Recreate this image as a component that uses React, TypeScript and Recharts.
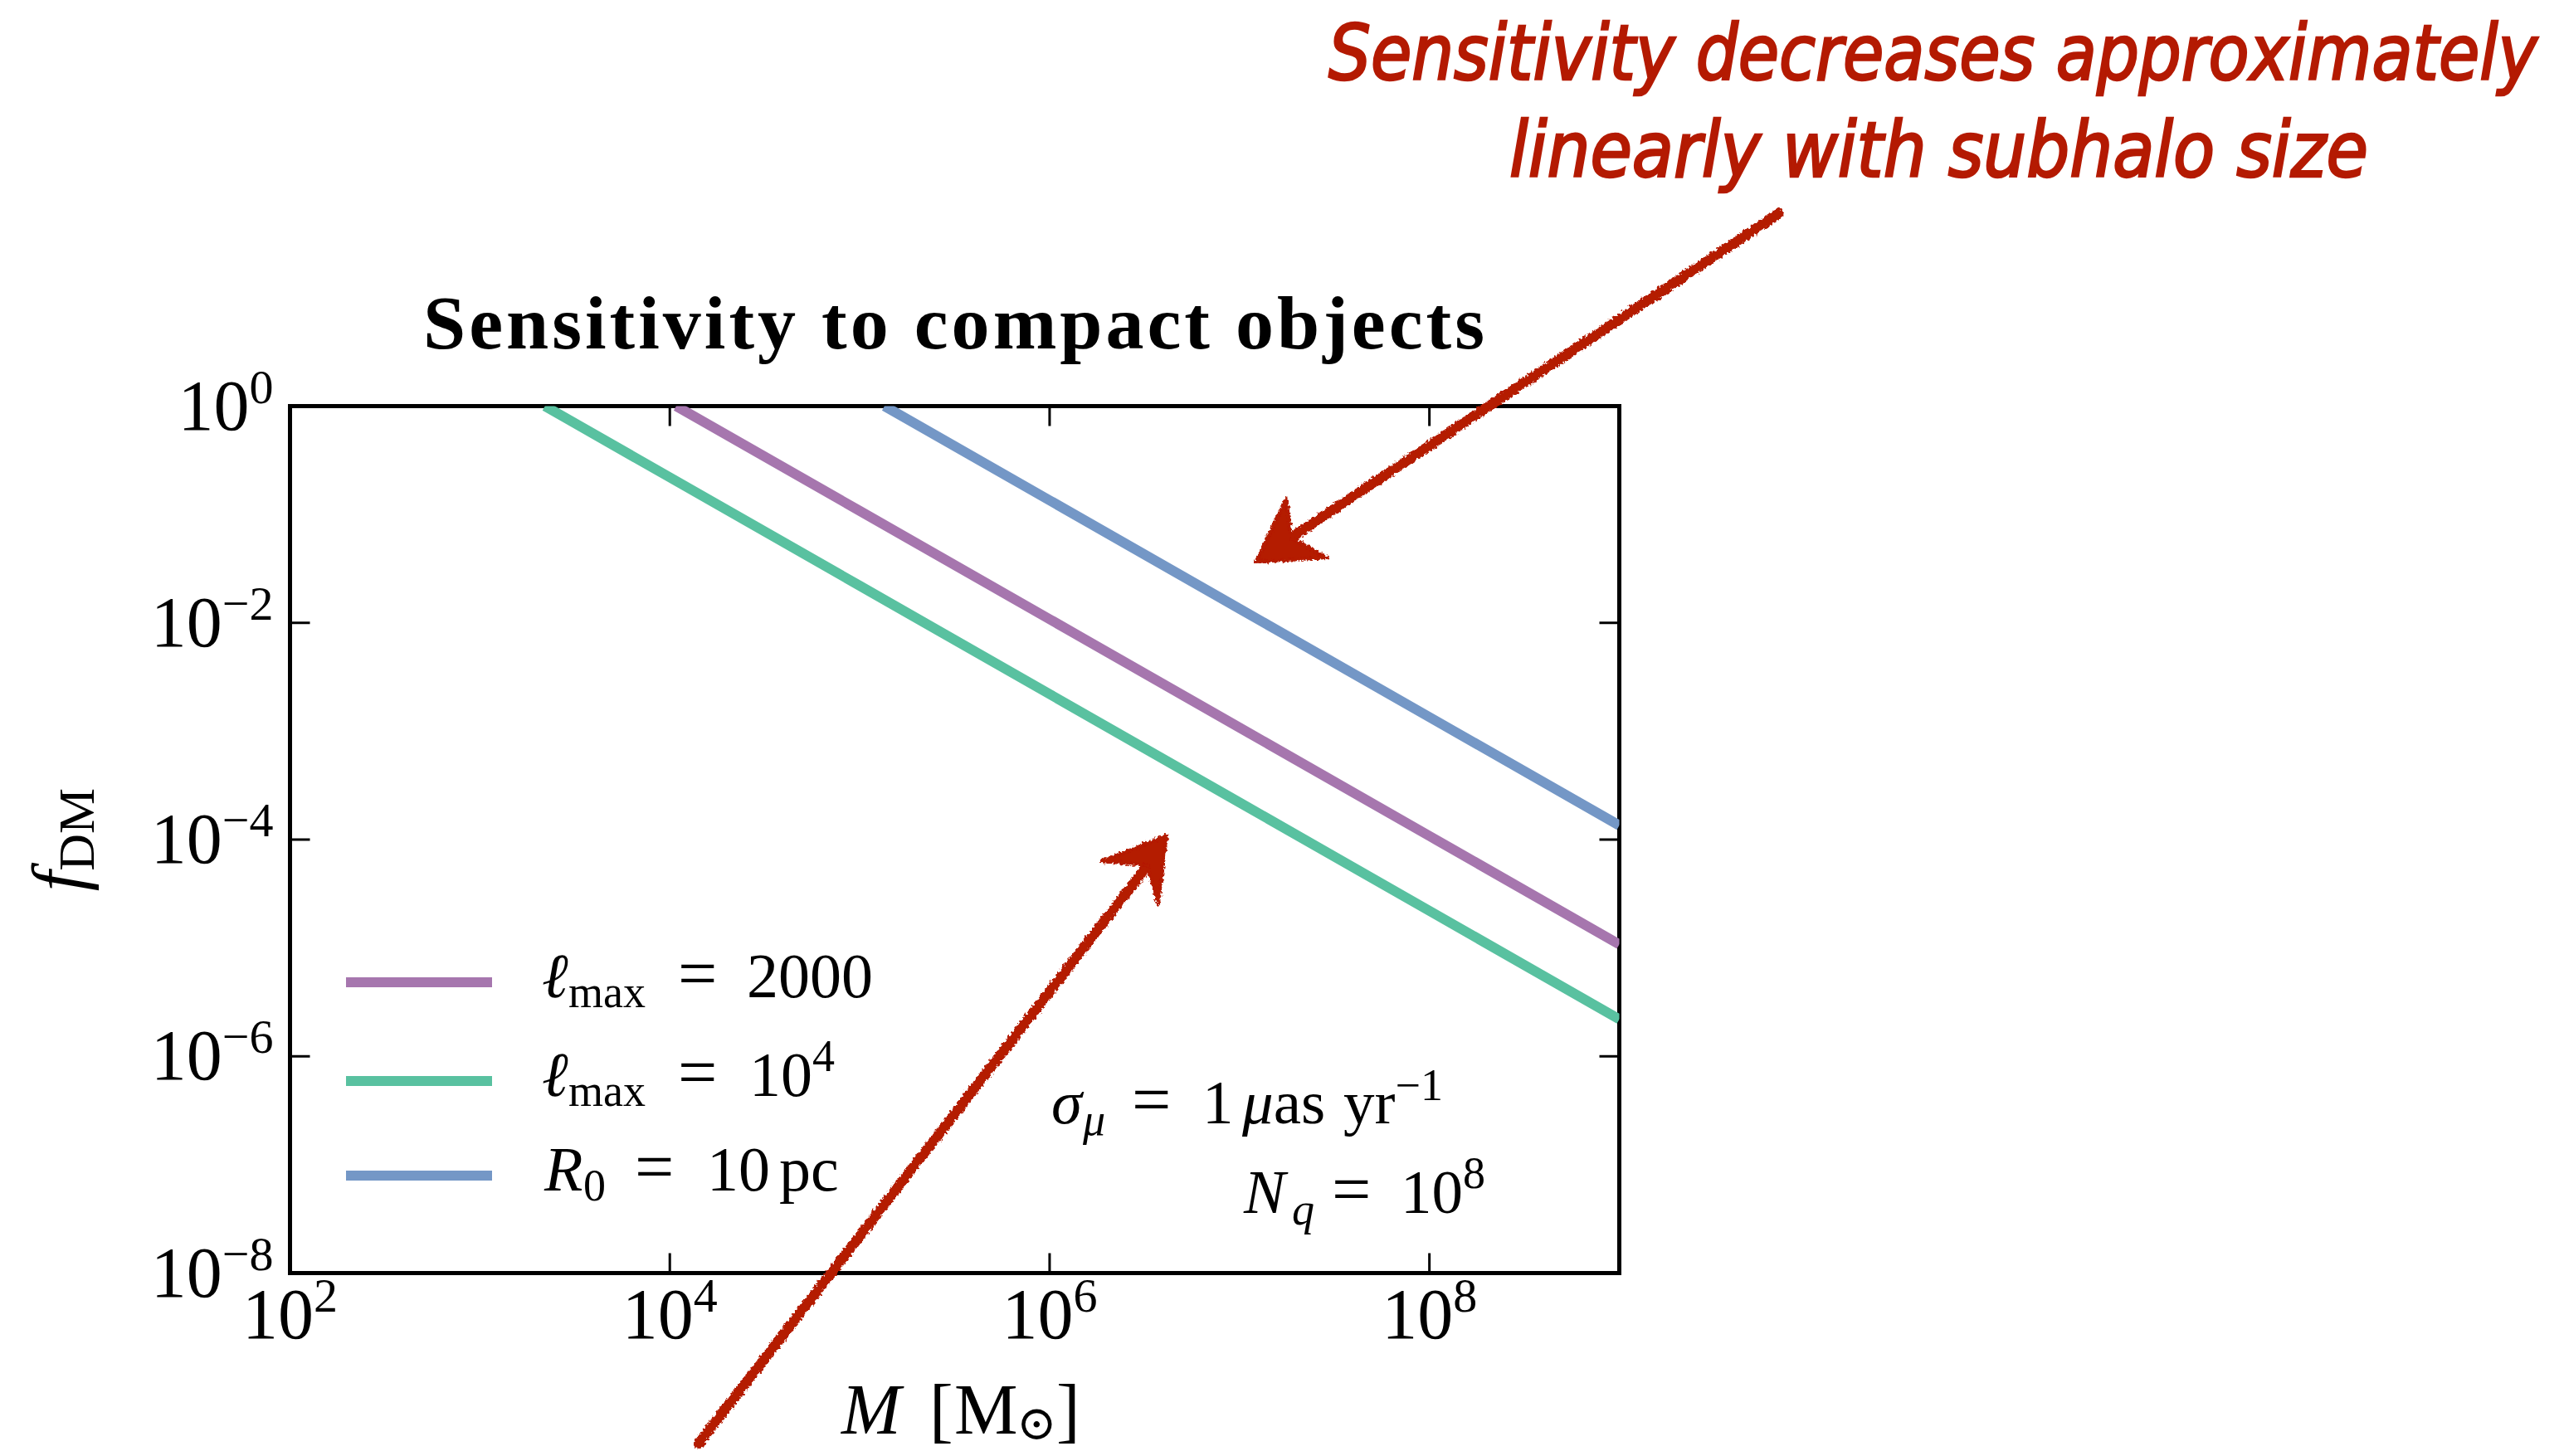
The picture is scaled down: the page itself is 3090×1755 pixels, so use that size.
import React from 'react';
import { LineChart, Line, XAxis, YAxis, ReferenceArea, Legend } from 'recharts';

// Reach in f_DM for each configuration, read per mass (solar masses)
const lmax2000Mass = [1.08e4, 1e5, 1e6, 1e7, 1e8, 1e9];
const lmax2000Frac = [1, 1.08e-1, 1.08e-2, 1.08e-3, 1.08e-4, 1.08e-5];

const lmax1e4Mass = [2.2e3, 1e4, 1e5, 1e6, 1e7, 1e8, 1e9];
const lmax1e4Frac = [1, 2.2e-1, 2.2e-2, 2.2e-3, 2.2e-4, 2.2e-5, 2.2e-6];

const r10pcMass = [1.35e5, 1e6, 1e7, 1e8, 1e9];
const r10pcFrac = [1, 1.35e-1, 1.35e-2, 1.35e-3, 1.35e-4];

const massTicks = [1e2, 1e4, 1e6, 1e8];
const fracTicks = [1e-8, 1e-6, 1e-4, 1e-2, 1];
const massDomain = [1e2, 1e9];
const fracDomain = [1e-8, 1];

const W = 3090;
const H = 1755;
const PLOT_LEFT = 349.5;
const PLOT_RIGHT = 1951.5;
const PLOT_TOP = 489.5;
const PLOT_BOTTOM = 1534.5;
const X_AXIS_H = 100;
const Y_AXIS_W = 200;
const TICK_LEN = 24;
const LINE_W = 12;

const SERIF = "'Liberation Serif', 'DejaVu Serif', serif";
const NARROW = "'Liberation Sans Narrow', 'DejaVu Sans Condensed', 'Liberation Sans', sans-serif";
const RED = '#B41A02';
// horizontal squeeze for the callout lettering
const CALLOUT_SQUEEZE = 0.88;

const toPoints = (mass: number[], frac: number[]) => mass.map((M, i) => ({ M, f: frac[i] }));

const series = [
  { key: 'lmax2000', color: '#A676AE', data: toPoints(lmax2000Mass, lmax2000Frac) },
  { key: 'lmax1e4', color: '#59C1A0', data: toPoints(lmax1e4Mass, lmax1e4Frac) },
  { key: 'r10pc', color: '#7497C6', data: toPoints(r10pcMass, r10pcFrac) },
];
const seriesOrder = series.map((s) => s.key);

const expText = (v: number) => {
  const e = Math.round(Math.log10(v));
  return e < 0 ? '\u2212' + Math.abs(e) : String(e);
};

const MassTick = (props: any) => {
  const { x, payload } = props;
  return (
    <g>
      <line x1={x} x2={x} y1={PLOT_BOTTOM} y2={PLOT_BOTTOM - TICK_LEN} stroke="#000" strokeWidth={3} />
      <line x1={x} x2={x} y1={PLOT_TOP} y2={PLOT_TOP + TICK_LEN} stroke="#000" strokeWidth={3} />
      <text x={x} y={PLOT_BOTTOM + 78} textAnchor="middle" fontFamily={SERIF} fontSize={86} fill="#000">
        10<tspan dy={-32} fontSize={58}>{expText(payload.value)}</tspan>
      </text>
    </g>
  );
};

const FracTick = (props: any) => {
  const { y, payload } = props;
  return (
    <g>
      <line x1={PLOT_LEFT} x2={PLOT_LEFT + TICK_LEN} y1={y} y2={y} stroke="#000" strokeWidth={3} />
      <line x1={PLOT_RIGHT} x2={PLOT_RIGHT - TICK_LEN} y1={y} y2={y} stroke="#000" strokeWidth={3} />
      <text x={PLOT_LEFT - 20} y={y + 28} textAnchor="end" fontFamily={SERIF} fontSize={86} fill="#000">
        10<tspan dy={-32} fontSize={58}>{expText(payload.value)}</tspan>
      </text>
    </g>
  );
};

// legend rows: math labels laid out piece by piece
const legendLabel = (key: string, x: number, y: number) => {
  const common = { fontFamily: SERIF, fontSize: 76, fill: '#000' };
  if (key === 'r10pc') {
    return (
      <text {...common} x={x} y={y}>
        <tspan x={x + 3} fontStyle="italic">R</tspan>
        <tspan x={x + 50} dy={12} fontSize={54}>0</tspan>
        <tspan x={x + 112} dy={-12} fontSize={84}>=</tspan>
        <tspan x={x + 199}>10</tspan>
        <tspan x={x + 286}>pc</tspan>
      </text>
    );
  }
  return (
    <text {...common} x={x} y={y}>
      <tspan x={x} fontStyle="italic">ℓ</tspan>
      <tspan x={x + 32} dy={12} fontSize={54}>max</tspan>
      <tspan x={x + 164} dy={-12} fontSize={84}>=</tspan>
      {key === 'lmax2000' ? (
        <tspan x={x + 247}>2000</tspan>
      ) : (
        <>
          <tspan x={x + 250}>10</tspan>
          <tspan dy={-30} fontSize={54}>4</tspan>
        </>
      )}
    </text>
  );
};

const LEGEND_LEFT = 400;
const LEGEND_TOP = 1120;
const LEGEND_ROWS = [64, 183, 297];

const LegendBox = (props: any) => {
  const payload = [...(props.payload || [])].sort(
    (a: any, b: any) => seriesOrder.indexOf(a.value) - seriesOrder.indexOf(b.value)
  );
  return (
    <svg width={720} height={360} style={{ display: 'block' }}>
      {payload.map((entry: any, i: number) => (
        <g key={entry.value}>
          <line x1={17} x2={193} y1={LEGEND_ROWS[i]} y2={LEGEND_ROWS[i]} stroke={entry.color} strokeWidth={LINE_W} />
          {legendLabel(entry.value, 253, LEGEND_ROWS[i] + 18)}
        </g>
      ))}
    </svg>
  );
};

const Annotations = () => (
  <svg width={W} height={H} style={{ position: 'absolute', left: 0, top: 0, pointerEvents: 'none' }}>
    <defs>
      <filter id="marker" x="-10%" y="-10%" width="120%" height="120%">
        <feTurbulence type="fractalNoise" baseFrequency="0.3" numOctaves={2} seed={4} result="noise" />
        <feDisplacementMap in="SourceGraphic" in2="noise" scale={7} xChannelSelector="R" yChannelSelector="G" />
      </filter>
    </defs>

    <text x={510} y={420} fontFamily={SERIF} fontWeight="bold" fontSize={92} textLength={1279} lengthAdjust="spacing" fill="#000">
      Sensitivity to compact objects
    </text>

    {/* axis titles */}
    <text transform="translate(100, 1012) rotate(-90)" textAnchor="middle" fontFamily={SERIF} fontSize={88} fill="#000">
      <tspan fontStyle="italic">f</tspan>
      <tspan dy={13} fontSize={62}>DM</tspan>
    </text>
    <text x={1014} y={1728} fontFamily={SERIF} fontSize={86} fill="#000">
      <tspan x={1014} fontStyle="italic">M</tspan>
      <tspan x={1120}>[</tspan>
      <tspan x={1150}>M</tspan>
      <tspan x={1225} dy={7} fontSize={58}>⊙</tspan>
      <tspan x={1273} dy={-7}>]</tspan>
    </text>

    {/* survey assumptions */}
    <text x={1267} y={1354} fontFamily={SERIF} fontSize={75} fill="#000">
      <tspan x={1267} fontStyle="italic">σ</tspan>
      <tspan x={1305} dy={14} fontSize={54} fontStyle="italic">μ</tspan>
      <tspan x={1364} dy={-14} fontSize={84}>=</tspan>
      <tspan x={1449}>1</tspan>
      <tspan x={1497} fontStyle="italic">μ</tspan>
      <tspan>as</tspan>
      <tspan x={1619}>yr</tspan>
      <tspan dy={-28} fontSize={54}>−1</tspan>
    </text>
    <text x={1499} y={1462} fontFamily={SERIF} fontSize={75} fill="#000">
      <tspan x={1499} fontStyle="italic">N</tspan>
      <tspan x={1557} dy={14} fontSize={54} fontStyle="italic">q</tspan>
      <tspan x={1605} dy={-14} fontSize={84}>=</tspan>
      <tspan x={1688}>10</tspan>
      <tspan dy={-30} fontSize={54}>8</tspan>
    </text>

    {/* callout */}
    <g fontFamily={NARROW} fontStyle="italic" fontSize={92} fill={RED} stroke={RED} strokeWidth={2.5}>
      <text
        transform={`translate(1601, 96) scale(${CALLOUT_SQUEEZE}, 1)`}
        x={0}
        y={0}
        textLength={1457 / CALLOUT_SQUEEZE}
        lengthAdjust="spacingAndGlyphs"
      >
        Sensitivity decreases approximately
      </text>
      <text
        transform={`translate(1819, 213) scale(${CALLOUT_SQUEEZE}, 1)`}
        x={0}
        y={0}
        textLength={1035 / CALLOUT_SQUEEZE}
        lengthAdjust="spacingAndGlyphs"
      >
        linearly with subhalo size
      </text>
    </g>

    <g filter="url(#marker)" fill={RED} stroke={RED}>
      <line x1={2144} y1={257} x2={1556} y2={648} strokeWidth={12} strokeLinecap="round" />
      <polygon points="1514,677 1550,601 1556,648 1599,672" strokeWidth={4} strokeLinejoin="round" />
      <line x1={842} y1={1740} x2={1383} y2={1043} strokeWidth={12} strokeLinecap="round" />
      <polygon points="1406,1007 1327,1038 1383,1043 1396,1090" strokeWidth={4} strokeLinejoin="round" />
    </g>
  </svg>
);

const App: React.FC = () => {
  return (
    <div style={{ position: 'absolute', left: 0, top: 0, width: W, height: H, background: '#fff' }}>
      <LineChart
        width={W}
        height={H}
        margin={{
          top: PLOT_TOP,
          right: W - PLOT_RIGHT,
          bottom: H - PLOT_BOTTOM - X_AXIS_H,
          left: PLOT_LEFT - Y_AXIS_W,
        }}
      >
        <XAxis
          dataKey="M"
          type="number"
          scale="log"
          domain={massDomain}
          ticks={massTicks}
          interval={0}
          allowDataOverflow
          axisLine={false}
          tickLine={false}
          tickSize={0}
          tickMargin={0}
          height={X_AXIS_H}
          tick={<MassTick />}
        />
        <YAxis
          dataKey="f"
          type="number"
          scale="log"
          domain={fracDomain}
          ticks={fracTicks}
          interval={0}
          allowDataOverflow
          axisLine={false}
          tickLine={false}
          tickSize={0}
          tickMargin={0}
          width={Y_AXIS_W}
          tick={<FracTick />}
        />
        {series.map((s) => (
          <Line
            key={s.key}
            data={s.data}
            dataKey="f"
            name={s.key}
            type="linear"
            stroke={s.color}
            strokeWidth={LINE_W}
            dot={false}
            activeDot={false}
            isAnimationActive={false}
          />
        ))}
        <ReferenceArea
          x1={massDomain[0]}
          x2={massDomain[1]}
          y1={fracDomain[0]}
          y2={fracDomain[1]}
          fill="none"
          stroke="#000"
          strokeWidth={5}
          ifOverflow="visible"
        />
        <Legend
          layout="horizontal"
          verticalAlign="middle"
          align="center"
          content={<LegendBox />}
          wrapperStyle={{ position: 'absolute', left: LEGEND_LEFT, top: LEGEND_TOP, width: 720, height: 360 }}
        />
      </LineChart>
      <Annotations />
    </div>
  );
};

export default App;
